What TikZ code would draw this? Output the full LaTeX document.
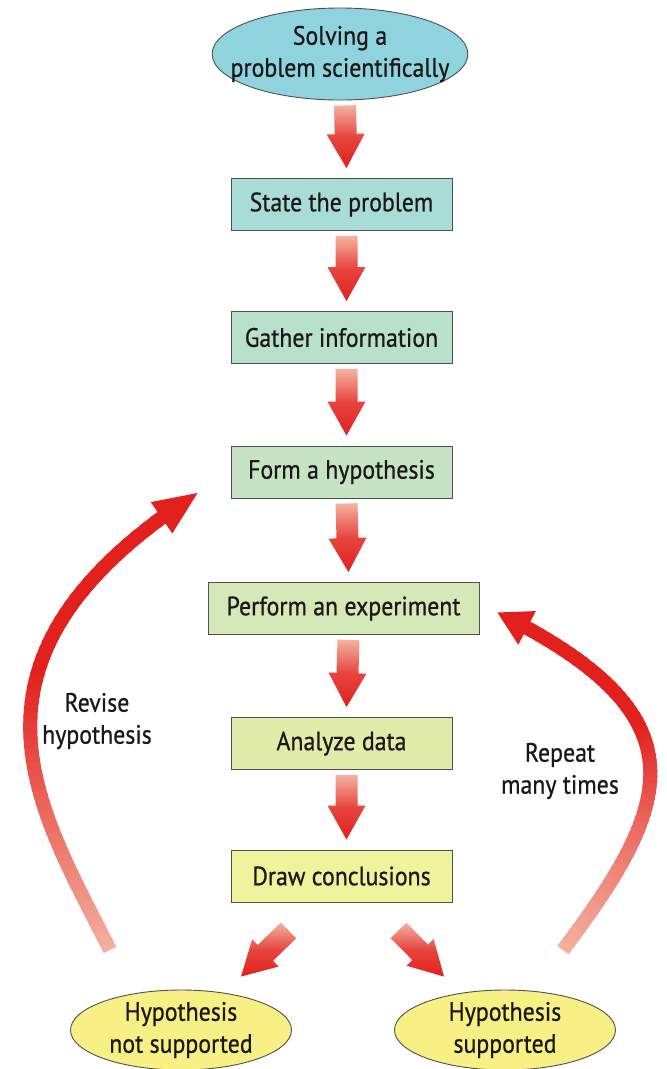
\documentclass[tikz,border=0pt]{standalone}
\usepackage{fontspec}
\setmainfont{PT Sans}[FakeStretch=0.9,FakeBold=0.7]
\usetikzlibrary{shapes.geometric,calc}
\definecolor{cTop}{RGB}{143,211,223}
\definecolor{cA}{RGB}{168,220,214}
\definecolor{cB}{RGB}{183,225,203}
\definecolor{cC}{RGB}{198,228,195}
\definecolor{cD}{RGB}{213,232,184}
\definecolor{cE}{RGB}{226,236,170}
\definecolor{cF}{RGB}{239,243,155}
\definecolor{cG}{RGB}{248,239,133}
\definecolor{arrRed}{RGB}{226,32,30}
\definecolor{arrPale}{RGB}{244,178,160}
\definecolor{txt}{RGB}{28,24,25}
\definecolor{edge}{RGB}{80,80,80}
\newcommand\fatarr[2]{%
  \coordinate (fa-h) at ($(#2)!34pt!(#1)$);
  \path[shade, top color=arrPale, bottom color=arrRed, middle color=arrRed!75!arrPale]
    ($(#1)!11pt!90:(#2)$) -- ($(fa-h)!11pt!90:(#2)$) -- ($(fa-h)!19pt!90:(#2)$) --
    (#2) -- ($(fa-h)!19pt!-90:(#2)$) -- ($(fa-h)!11pt!-90:(#2)$) --
    ($(#1)!11pt!-90:(#2)$) -- cycle;}
\newcommand\curvearr[4]{%
  \foreach \i in {1,...,60}{%
    \pgfmathsetmacro\ta{0.955*(\i-1)/60}%
    \pgfmathsetmacro\tb{min(0.955,0.955*(\i+0.5)/60)}%
    \pgfmathtruncatemacro\pc{min(100,150*\i/60)}%
    \path (#1) .. controls (#2) and (#3) .. (#4) coordinate[pos=\ta] (sa) coordinate[pos=\tb] (sb);
    \draw[line width=14pt, color=arrRed!\pc!arrPale] (sa) -- (sb);
  }%
  \path (#1) .. controls (#2) and (#3) .. (#4) coordinate[pos=0.95] (hb);
  \fill[arrRed] ($(hb)!19pt!90:(#4)$) -- (#4) -- ($(hb)!19pt!-90:(#4)$) -- cycle;}
\begin{document}
\begin{tikzpicture}[x=1pt,y=-1pt,
  lbl/.style={font=\fontsize{26.5}{32}\selectfont, text=txt, align=center},
  box/.style={lbl, draw=edge, line width=0.9pt, minimum width=221pt, minimum height=52pt, inner sep=0pt},
  oval/.style={lbl, ellipse, draw=edge, line width=0.9pt, inner sep=0pt}]
\useasboundingbox (0,0) rectangle (667,1069);
\fill[white] (0,0) rectangle (667,1069);

\node[oval, fill=cTop, inner xsep=-19pt, minimum width=254pt, minimum height=92pt] (top) at (340,54) {Solving a\\problem scientifically};
\node[box, fill=cA] (state) at (341.5,204.5) {State the problem};
\node[box, fill=cB] (gather) at (341.5,337.5) {Gather information};
\node[box, fill=cC] (form) at (341.5,472) {Form a hypothesis};
\node[box, fill=cD, minimum width=271pt] (perform) at (343.5,608.5) {Perform an experiment};
\node[box, fill=cE] (analyze) at (341.5,743.5) {Analyze data};
\node[box, fill=cF] (concl) at (341.5,876) {Draw conclusions};
\node[oval, fill=cG, minimum width=221pt, minimum height=80pt] (notsup) at (181,1030) {Hypothesis\\not supported};
\node[oval, fill=cG, minimum width=221pt, minimum height=80pt] (sup) at (505,1030) {Hypothesis\\supported};

\node[lbl] (revise) at (97,721) {Revise\\hypothesis};
\node[lbl] (repeat) at (560,771) {Repeat\\many times};

% straight arrows
\foreach \a/\b in {top/state,state/gather,gather/form,form/perform,perform/analyze,analyze/concl}{
  \coordinate (s) at ($(\a.south)+(5,5)$);
  \coordinate (t) at ($(\b.north)+(5,-10)$);
  \fatarr{s}{t}
}
\coordinate (dl1) at ($(concl.south)+(-53,28)$);
\coordinate (dl2) at ($(notsup.north)+(60,-13)$);
\fatarr{dl1}{dl2}
\coordinate (dr1) at ($(concl.south)+(57,28)$);
\coordinate (dr2) at ($(sup.north)+(-61,-13)$);
\fatarr{dr1}{dr2}

% curved arrows
\coordinate (L0) at (110,950);
\coordinate (L1) at (38,807);
\coordinate (L2) at (-60,659);
\coordinate (L3) at ($(form.west)+(-33,21)$);
\curvearr{L0}{L1}{L2}{L3}
\coordinate (R0) at (563,950);
\coordinate (R1) at (673,804);
\coordinate (R2) at (707,716);
\coordinate (R3) at ($(perform.east)+(18,4)$);
\curvearr{R0}{R1}{R2}{R3}
\end{tikzpicture}
\end{document}
